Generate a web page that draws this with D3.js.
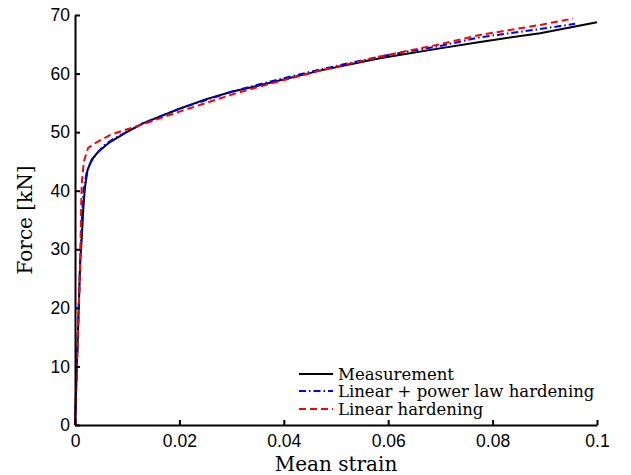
<!DOCTYPE html>
<html>
<head>
<meta charset="utf-8">
<script src="https://cdn.jsdelivr.net/npm/d3@7"></script>
<style>
  html, body { margin: 0; padding: 0; background: #fff; }
  svg { display: block; }
</style>
</head>
<body>
<svg id="chart" width="631" height="475"></svg>
<script>
// ---- data ----
const xTicks = [0, 0.02, 0.04, 0.06, 0.08, 0.1];
const xTickLabels = ["0", "0.02", "0.04", "0.06", "0.08", "0.1"];
const yTicks = [0, 10, 20, 30, 40, 50, 60, 70];
const yTickLabels = ["0", "10", "20", "30", "40", "50", "60", "70"];

const seriesNames = ["Measurement", "Linear + power law hardening", "Linear hardening"];

const measStrain = [0, 0.0005, 0.0010, 0.0013, 0.0016, 0.0019, 0.0024, 0.0032, 0.0044, 0.0067, 0.0099, 0.013, 0.02, 0.025, 0.03, 0.0354, 0.0469, 0.0584, 0.0699, 0.0776, 0.0891, 0.1];
const measForce  = [0, 14, 28, 32, 37, 40.5, 43.5, 45.3, 46.6, 48.3, 50.0, 51.5, 54.0, 55.6, 56.9, 58.0, 60.5, 62.6, 64.3, 65.4, 66.9, 68.75];

const powStrain = [0, 0.0005, 0.0010, 0.0013, 0.0016, 0.0022, 0.0029, 0.0040, 0.0055, 0.0073, 0.010, 0.013, 0.02, 0.03, 0.0354, 0.0469, 0.0584, 0.0699, 0.0776, 0.0891, 0.0958];
const powForce  = [0, 14, 28, 35, 39.8, 43.0, 44.7, 46.2, 47.7, 48.8, 50.1, 51.5, 54.0, 56.9, 58.2, 60.7, 62.9, 64.7, 66.2, 67.6, 68.5];

const linStrain = [0, 0.0005, 0.0010, 0.0012, 0.0013, 0.0017, 0.0025, 0.0038, 0.0067, 0.010, 0.0125, 0.02, 0.03, 0.0354, 0.0469, 0.0584, 0.0699, 0.0776, 0.0891, 0.0954];
const linForce  = [0, 14, 28, 38, 41.3, 45.0, 47.3, 48.1, 49.5, 50.5, 51.2, 53.5, 56.4, 57.8, 60.5, 62.9, 65.0, 66.6, 68.3, 69.4];

// ---- layout ----
const svg = d3.select("#chart");
const mLeft = 75, mRight = 597, mTop = 15, mBottom = 425;

const x = d3.scaleLinear().domain([0, 0.1]).range([mLeft, mRight]);
const y = d3.scaleLinear().domain([0, 70]).range([mBottom, mTop]);

const tickFont = "'Liberation Sans', Arial, Helvetica, sans-serif";
const serif = "'DejaVu Serif', 'Liberation Serif', serif";

const line = d3.line().x(d => x(d[0])).y(d => y(d[1]));
const zip = (a, b) => a.map((v, i) => [v, b[i]]);

const series = [
  { data: zip(measStrain, measForce), color: "#000000", dash: null },
  { data: zip(powStrain, powForce), color: "#0000ff", dash: "7,3,1.5,3" },
  { data: zip(linStrain, linForce), color: "#ff0000", dash: "7,4" }
];

series.forEach(s => {
  svg.append("path")
    .attr("d", line(s.data))
    .attr("fill", "none")
    .attr("stroke", s.color)
    .attr("stroke-width", 2)
    .attr("stroke-dasharray", s.dash)
    .attr("stroke-linejoin", "round");
});

// axes
const xAxis = d3.axisBottom(x).tickValues(xTicks).tickFormat((d, i) => xTickLabels[i]).tickSizeInner(-5).tickSizeOuter(0).tickPadding(10);
const yAxis = d3.axisLeft(y).tickValues(yTicks).tickFormat((d, i) => yTickLabels[i]).tickSizeInner(-5).tickSizeOuter(0).tickPadding(8);

const gx = svg.append("g").attr("transform", `translate(0,${mBottom})`).call(xAxis);
const gy = svg.append("g").attr("transform", `translate(${mLeft},0)`).call(yAxis);

[gx, gy].forEach(g => {
  g.select(".domain").attr("stroke", "#000").attr("stroke-width", 2);
  g.selectAll(".tick line").attr("stroke", "#000").attr("stroke-width", 2);
  g.selectAll(".tick text").attr("fill", "#000").style("font-family", tickFont).style("font-size", "17.5px");
});
gy.selectAll(".tick text").attr("x", -5);

// axis titles
svg.append("text")
  .attr("x", 336).attr("y", 471)
  .attr("text-anchor", "middle")
  .style("font-family", serif).style("font-size", "20px")
  .text("Mean strain");

svg.append("text")
  .attr("transform", `translate(32,${(mTop + mBottom) / 2}) rotate(-90)`)
  .attr("text-anchor", "middle")
  .style("font-family", serif).style("font-size", "20px")
  .text("Force [kN]");

// legend
const legY = [374, 391, 409];
series.forEach((s, i) => {
  svg.append("line")
    .attr("x1", 299).attr("x2", 333)
    .attr("y1", legY[i]).attr("y2", legY[i])
    .attr("stroke", s.color).attr("stroke-width", 2)
    .attr("stroke-dasharray", s.dash);
  svg.append("text")
    .attr("x", 338).attr("y", legY[i] + 5.5)
    .style("font-family", serif).style("font-size", "16.5px")
    .text(seriesNames[i]);
});
</script>
</body>
</html>
